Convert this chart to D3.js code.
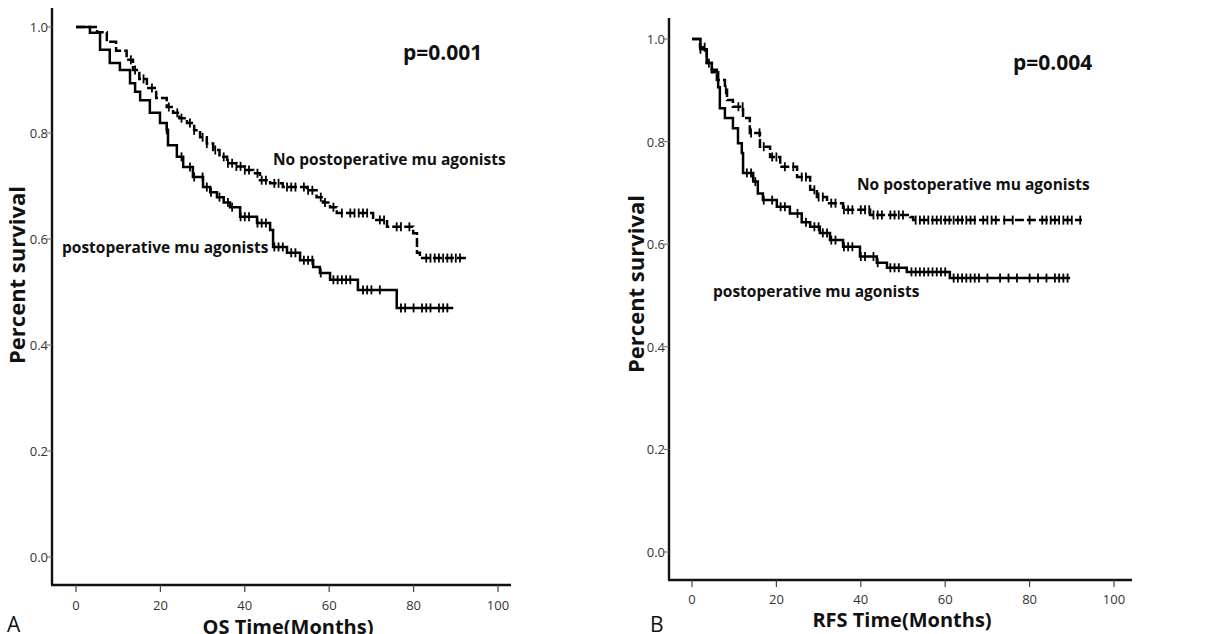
<!DOCTYPE html>
<html>
<head>
<meta charset="utf-8">
<script src="https://cdn.jsdelivr.net/npm/d3@7"></script>
<style>
body { margin: 0; background: #fff; }
svg { display: block; }
text { font-family: "Open Sans", "DejaVu Sans", sans-serif; fill: #111; }
</style>
</head>
<body>
<div id="chart"></div>
<script>
// tick values
var xTicks = [0, 20, 40, 60, 80, 100];
var yTicks = [0, 0.2, 0.4, 0.6, 0.8, 1.0];

// panel A - overall survival, [months, survival] at each step
var osNoMu = [[0,1],[5,0.99],[7.3,0.972],[9.5,0.955],[12,0.938],[13.5,0.919],[15,0.902],[16.8,0.885],[19,0.866],
  [21.5,0.849],[23,0.838],[24.5,0.828],[26.3,0.819],[28,0.805],[29.4,0.792],[31,0.78],[32.5,0.768],[34,0.755],
  [35.8,0.743],[38,0.737],[40,0.73],[42,0.724],[43.6,0.711],[46,0.705],[49,0.698],[54.7,0.692],[57,0.679],
  [58.5,0.669],[60.2,0.66],[61.8,0.649],[70.4,0.636],[73.7,0.623],[79.9,0.611],[80.8,0.574],[81.5,0.564],[93,0.564]];
var osMu = [[0,1],[3.3,0.989],[5.7,0.957],[8,0.932],[10.4,0.919],[12.8,0.894],[14,0.878],[15.2,0.862],[17.5,0.838],
  [19.9,0.819],[21.5,0.806],[21.8,0.777],[23.9,0.755],[25.4,0.736],[27.7,0.717],[30.1,0.698],[31.8,0.688],
  [33.4,0.679],[35,0.669],[36.5,0.66],[38.9,0.642],[42.9,0.63],[46,0.617],[46.7,0.585],[50,0.574],[53.1,0.56],
  [56.2,0.547],[57.8,0.536],[60.2,0.523],[66.8,0.504],[76,0.47],[89.4,0.47]];
var osNoMuCensor = [13,14,16,18,22,24,25,27,28,30,31,33,35,36,37,38,39,40,41,43,44,45,47,48,50,51,52,54,55,56,
  58,59,61,63,65,66,67,68,69,72,73,76,77,79,83,84,85,86,87,88,89,90,91];
var osMuCensor = [21.5,25,27,28,30,31,32,34,36,37,39,40,41,43,44,45,47,48,49,51,52,54,55,56,58,61,62,63,64,65,
  68,69,70,72,77,78,80,82,83,84,86,87,88];

// panel B - recurrence free survival
var rfsNoMu = [[0,1],[1.9,0.984],[3.5,0.953],[4.7,0.94],[5.9,0.92],[7.8,0.901],[8.3,0.881],[9.7,0.868],[12.1,0.846],
  [13.7,0.817],[16.1,0.79],[18.5,0.77],[20.9,0.751],[24.9,0.731],[28,0.706],[29.6,0.692],[32,0.68],[35.8,0.667],
  [42.2,0.657],[51.7,0.653],[52.4,0.647],[92.4,0.647]];
var rfsMu = [[0,1],[2,0.98],[3.5,0.953],[4.7,0.935],[6.2,0.906],[6.6,0.865],[7.8,0.846],[9.7,0.826],[10.9,0.797],
  [11.8,0.778],[12.1,0.739],[14.5,0.722],[15.6,0.699],[16.8,0.686],[20.1,0.673],[23.2,0.66],[26,0.643],[28,0.634],
  [30.3,0.622],[32.7,0.608],[35.8,0.595],[39.8,0.576],[43.8,0.564],[46.2,0.554],[50.9,0.546],[61.1,0.534],[89.6,0.534]];
var rfsNoMuCensor = [3,8,11,12,14,16,17,19,20,22,24,26,27,29,30,31,33,34,36,37,38,40,41,42,43,44,45,47,48,49,50,
  53,54,55,56,57,58,59,60,61,62,63,64,65,66,67,69,70,71,72,74,76,80,83,84,85,86,87,88,89,90,92];
var rfsMuCensor = [2,4,13,14,15,17,19,21,22,25,27,29,30,31,32,33,34,36,37,38,40,41,43,44,47,48,49,52,53,54,55,
  56,57,58,59,60,62,63,64,65,66,67,68,70,73,75,77,80,82,84,86,87,88,89];

var svg = d3.select("#chart").append("svg").attr("width", 1221).attr("height", 634);

function survAt(steps, t)
{
	var s = steps[0][1];
	for (var i = 0; i < steps.length; i++) {
		if (steps[i][0] <= t) s = steps[i][1];
	}
	return s;
}

function drawPanel(p)
{
	var x = d3.scaleLinear().domain([0, 100]).range([p.x0, p.x1]);
	var y = d3.scaleLinear().domain([0, 1]).range([p.y0, p.y1]);
	var g = svg.append("g");

	// axes lines
	g.append("line").attr("x1", p.ax).attr("x2", p.ax).attr("y1", p.axTop).attr("y2", p.axBottom)
		.attr("stroke", "#111").attr("stroke-width", 2.4);
	g.append("line").attr("x1", p.ax - 1).attr("x2", p.axRight).attr("y1", p.axBottom).attr("y2", p.axBottom)
		.attr("stroke", "#111").attr("stroke-width", 2.4);

	// y ticks
	yTicks.forEach(function(v) {
		g.append("line").attr("x1", p.ax - 5).attr("x2", p.ax).attr("y1", y(v)).attr("y2", y(v))
			.attr("stroke", "#666").attr("stroke-width", 1);
		g.append("text").attr("x", p.ax - 4).attr("y", y(v) + 5).attr("text-anchor", "end")
			.style("font-size", "13px").style("fill", "#333").text(d3.format(".1f")(v));
	});
	// x ticks
	xTicks.forEach(function(v) {
		g.append("line").attr("x1", x(v)).attr("x2", x(v)).attr("y1", p.axBottom).attr("y2", p.axBottom + 7)
			.attr("stroke", "#444").attr("stroke-width", 1.2);
		g.append("text").attr("x", x(v)).attr("y", p.tickY).attr("text-anchor", "middle")
			.style("font-size", "13px").style("fill", "#333").text(v);
	});

	var line = d3.line().x(function(d){ return x(d[0]); }).y(function(d){ return y(d[1]); })
		.curve(d3.curveStepAfter);

	[[p.upper, p.upperCensor, "9,3"], [p.lower, p.lowerCensor, null]].forEach(function(s) {
		var path = g.append("path").datum(s[0]).attr("d", line).attr("fill", "none")
			.attr("stroke", "#000").attr("stroke-width", 2.5);
		if (s[2]) path.attr("stroke-dasharray", s[2]);
		g.selectAll(null).data(s[1]).enter().append("line")
			.attr("x1", function(t){ return x(t); }).attr("x2", function(t){ return x(t); })
			.attr("y1", function(t){ return y(survAt(s[0], t)) - 4.5; })
			.attr("y2", function(t){ return y(survAt(s[0], t)) + 4.5; })
			.attr("stroke", "#000").attr("stroke-width", 1.8);
	});

	// texts
	g.append("text").attr("x", p.pX).attr("y", p.pY).style("font-size", "21px").style("font-weight", "bold")
		.text(p.pText);
	g.append("text").attr("x", p.upLabX).attr("y", p.upLabY).style("font-size", "15.5px").style("font-weight", "bold")
		.text("No postoperative mu agonists");
	g.append("text").attr("x", p.loLabX).attr("y", p.loLabY).style("font-size", "15.5px").style("font-weight", "bold")
		.text("postoperative mu agonists");
	g.append("text").attr("transform", "translate(" + p.yTitleX + "," + p.yTitleY + ") rotate(-90)")
		.attr("text-anchor", "middle").style("font-size", "22px").style("font-weight", "bold").text("Percent survival");
	g.append("text").attr("x", p.xTitleX).attr("y", p.xTitleY).attr("text-anchor", "middle")
		.style("font-size", "20px").style("font-weight", "bold").text(p.xTitle);
	g.append("text").attr("x", p.letterX).attr("y", 632).style("font-size", "21px").text(p.letter);
}

drawPanel({
	x0: 76, x1: 498, y0: 557, y1: 27,
	ax: 52, axTop: 8, axBottom: 585, axRight: 511, tickY: 610,
	upper: osNoMu, upperCensor: osNoMuCensor, lower: osMu, lowerCensor: osMuCensor,
	pText: "p=0.001", pX: 403, pY: 60,
	upLabX: 273, upLabY: 165, loLabX: 62, loLabY: 253,
	yTitleX: 25, yTitleY: 275, xTitle: "OS Time(Months)", xTitleX: 288, xTitleY: 634,
	letter: "A", letterX: 7
});

drawPanel({
	x0: 692, x1: 1114, y0: 552, y1: 39,
	ax: 669, axTop: 18, axBottom: 580, axRight: 1132, tickY: 604,
	upper: rfsNoMu, upperCensor: rfsNoMuCensor, lower: rfsMu, lowerCensor: rfsMuCensor,
	pText: "p=0.004", pX: 1013, pY: 70,
	upLabX: 857, upLabY: 190, loLabX: 713, loLabY: 297,
	yTitleX: 644, yTitleY: 284, xTitle: "RFS Time(Months)", xTitleX: 902, xTitleY: 627,
	letter: "B", letterX: 650
});
</script>
</body>
</html>
